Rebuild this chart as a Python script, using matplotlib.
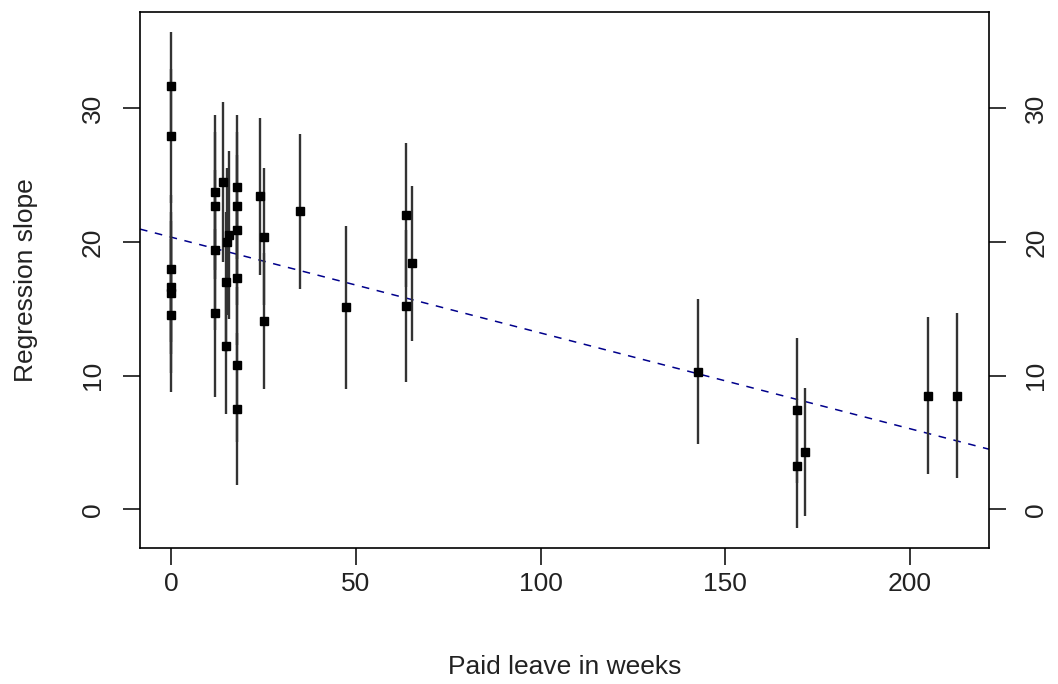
import numpy as np
import matplotlib
matplotlib.use("Agg")
import matplotlib.pyplot as plt

plt.rcParams['font.family'] = ['Liberation Sans', 'DejaVu Sans']

# paid leave (weeks), estimated slope and half-width of its interval
leave_weeks = [0, 0, 0, 0, 0, 0,
               11.8, 11.8, 11.8, 11.8,
               14.0, 15.6, 15.0, 14.7, 14.7,
               17.7, 17.7, 17.7, 17.7, 17.7, 17.7,
               23.9, 25.1, 25.1, 34.8, 47.4,
               63.5, 63.5, 65.1,
               142.7, 169.4, 169.4, 171.6, 204.9, 212.9]
slope = [31.7, 27.9, 18.0, 16.6, 16.2, 14.5,
         23.7, 22.7, 19.4, 14.7,
         24.5, 20.5, 20.0, 17.0, 12.2,
         24.1, 22.7, 20.9, 17.3, 10.8, 7.5,
         23.4, 20.4, 14.1, 22.3, 15.1,
         22.0, 15.2, 18.4,
         10.3, 7.4, 3.2, 4.3, 8.5, 8.5]
half_ci = [4.0, 5.0, 5.5, 5.0, 6.0, 5.7,
           5.8, 5.5, 6.0, 6.3,
           6.0, 6.3, 5.5, 5.2, 5.1,
           5.4, 5.5, 5.6, 5.0, 5.8, 5.7,
           5.9, 5.1, 5.1, 5.8, 6.1,
           5.4, 5.7, 5.8,
           5.4, 5.4, 4.6, 4.8, 5.9, 6.2]

# fitted line
fit_intercept = 20.35
fit_slope = -0.0716

fig = plt.figure(figsize=(10.58, 6.84), dpi=100)
ax = fig.add_axes([140 / 1058, 136 / 684, 849 / 1058, 536 / 684])

ax.errorbar(leave_weeks, slope, yerr=half_ci, fmt='s', color='black',
            ecolor='#333333', elinewidth=1.7, capsize=0, markersize=6.2,
            zorder=3)
ax.axline((0, fit_intercept), slope=fit_slope, color='#00008B', lw=1.1,
          linestyle=(0, (5, 5)), zorder=2)

ax.set_xlim(-8.5, 221.5)
ax.set_ylim(-2.9, 37.2)
ax.set_xticks([0, 50, 100, 150, 200])
ax.set_yticks([0, 10, 20, 30])

fs = 19
ax.tick_params(axis='both', direction='out', length=12.5, width=1.1,
               labelsize=fs, labelcolor='#222222')
ax.tick_params(axis='x', pad=5)
# y axis labelled on both sides, text turned along the axis
ax.tick_params(axis='y', right=True, labelright=True, labelrotation=90,
               pad=13)
for lab in ax.get_yticklabels():
    lab.set_va('center')

for sp in ax.spines.values():
    sp.set_linewidth(1.2)

ax.set_xlabel('Paid leave in weeks', fontsize=fs, color='#222222', labelpad=42)
ax.set_ylabel('Regression slope', fontsize=fs, color='#222222', labelpad=31)

fig.savefig('out.png', dpi=100)
